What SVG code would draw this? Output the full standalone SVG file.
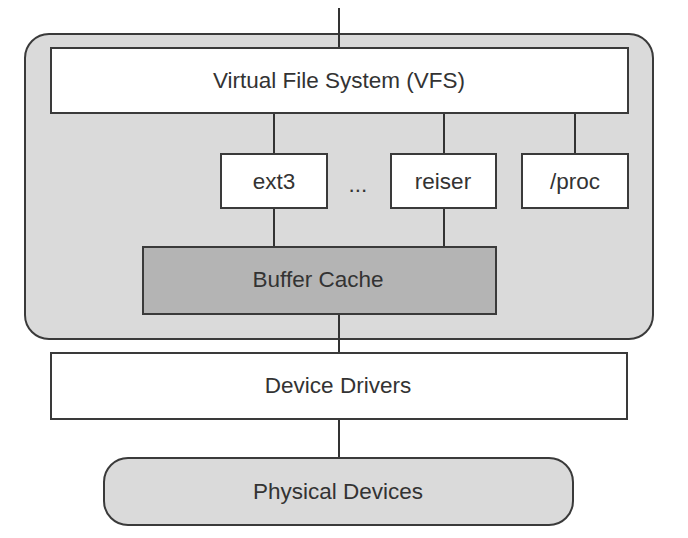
<svg xmlns="http://www.w3.org/2000/svg" width="688" height="538" viewBox="0 0 688 538">
<style>
.box{stroke:#3a3a3a;stroke-width:2;}
.w{fill:#ffffff;}
.g{fill:#dadada;}
.d{fill:#b4b4b4;}
.t{font-family:"Liberation Sans",Arial,sans-serif;font-size:22.5px;fill:#333;text-anchor:middle;}
.c{stroke:#333;stroke-width:2;fill:none;}
</style>
<rect width="688" height="538" fill="#ffffff"/>
<g id="kernel"><rect class="box g" x="25" y="34" width="628" height="305" rx="24"/></g>
<g id="connectors">
<line class="c" x1="339" y1="8" x2="339" y2="48"/>
<line class="c" x1="274" y1="113" x2="274" y2="154"/>
<line class="c" x1="444" y1="113" x2="444" y2="154"/>
<line class="c" x1="575" y1="113" x2="575" y2="154"/>
<line class="c" x1="274" y1="208" x2="274" y2="247"/>
<line class="c" x1="444" y1="208" x2="444" y2="247"/>
<line class="c" x1="339" y1="314" x2="339" y2="353"/>
<line class="c" x1="339" y1="419" x2="339" y2="458"/>
</g>
<g id="vfs"><rect class="box w" x="51" y="48" width="577" height="65"/><text class="t" x="339" y="88">Virtual File System (VFS)</text></g>
<g id="ext3"><rect class="box w" x="221" y="154" width="106" height="54"/><text class="t" x="274" y="189">ext3</text></g>
<g id="dots"><text class="t" x="358" y="192">...</text></g>
<g id="reiser"><rect class="box w" x="391" y="154" width="105" height="54"/><text class="t" x="443" y="189">reiser</text></g>
<g id="proc"><rect class="box w" x="522" y="154" width="106" height="54"/><text class="t" x="575" y="189">/proc</text></g>
<g id="buffer"><rect class="box d" x="143" y="247" width="353" height="67"/><text class="t" x="318" y="287">Buffer Cache</text></g>
<g id="drivers"><rect class="box w" x="51" y="353" width="576" height="66"/><text class="t" x="338" y="393">Device Drivers</text></g>
<g id="physical"><rect class="box g" x="104" y="458" width="469" height="67" rx="24"/><text class="t" x="338" y="499">Physical Devices</text></g>
</svg>
